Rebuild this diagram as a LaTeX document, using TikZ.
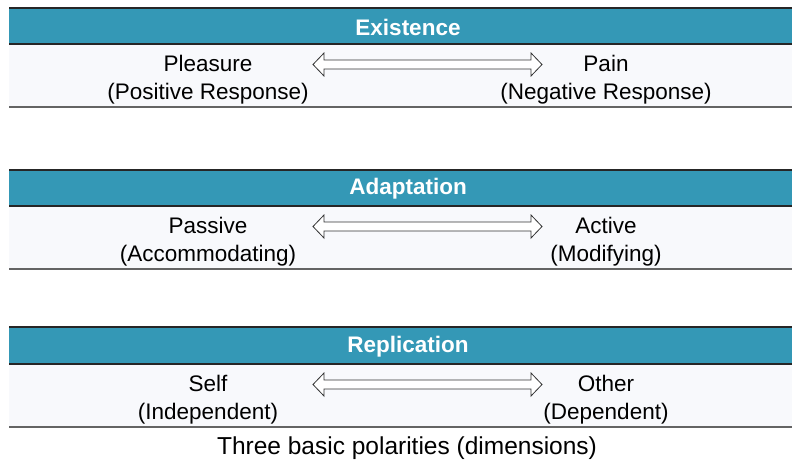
\documentclass[tikz,border=0pt]{standalone}
\usepackage{fontspec}
\setmainfont{Liberation Sans}
\definecolor{teal}{RGB}{52,152,182}
\definecolor{bodybg}{RGB}{248,249,252}
\definecolor{rulegray}{RGB}{100,100,100}
\begin{document}
\begin{tikzpicture}[x=1pt,y=-1pt,
  headtext/.style={text=white,font=\fontsize{22.5}{27}\selectfont\bfseries},
  poletext/.style={align=center,font=\fontsize{22.5}{28}\selectfont,inner sep=0pt},
  captext/.style={font=\fontsize{24.5}{29}\selectfont},
  dblarrow/.style={draw=black!80,fill=white,line width=0.8pt,line join=miter}]
\useasboundingbox (0,0) rectangle (792,461);
\fill[white] (0,0) rectangle (792,461);
\foreach \t/\hb/\bb/\ttl/\la/\lb/\ra/\rb/\nm in {
  8/44/107/Existence/Pleasure/(Positive Response)/Pain/(Negative Response)/a,
  170/206/269/Adaptation/Passive/(Accommodating)/Active/(Modifying)/b,
  327/364/427/Replication/Self/(Independent)/Other/(Dependent)/c}{
  \fill[teal] (9,\t) rectangle (792,\hb);
  \fill[bodybg] (9,\hb) rectangle (792,\bb);
  \draw[black!85,line width=1.6pt] (9,\t) -- (792,\t);
  \draw[black!85,line width=1.2pt] (9,\hb) -- (792,\hb);
  \draw[rulegray,line width=1.8pt] (9,\bb) -- (792,\bb);
  \node[headtext] (h\nm) at (408,{(\t+\hb)/2+1}) {\ttl};
  \pgfmathsetmacro{\ay}{\hb+20.5}
  \node[poletext] (l\nm) at (208,{\hb+36}) {\la\\\lb};
  \node[poletext] (r\nm) at (606,{\hb+36}) {\ra\\\rb};
  \coordinate (al\nm) at (313,\ay);
  \coordinate (ar\nm) at (542,\ay);
  \draw[dblarrow] (al\nm)
     -- ([shift={(11,-11.5)}]al\nm) -- ([shift={(11,-4.5)}]al\nm)
     -- ([shift={(-11,-4.5)}]ar\nm) -- ([shift={(-11,-11.5)}]ar\nm)
     -- (ar\nm)
     -- ([shift={(-11,11.5)}]ar\nm) -- ([shift={(-11,4.5)}]ar\nm)
     -- ([shift={(11,4.5)}]al\nm) -- ([shift={(11,11.5)}]al\nm) -- cycle;
}
\node[captext] (cap) at (407,448) {Three basic polarities (dimensions)};
\end{tikzpicture}
\end{document}
